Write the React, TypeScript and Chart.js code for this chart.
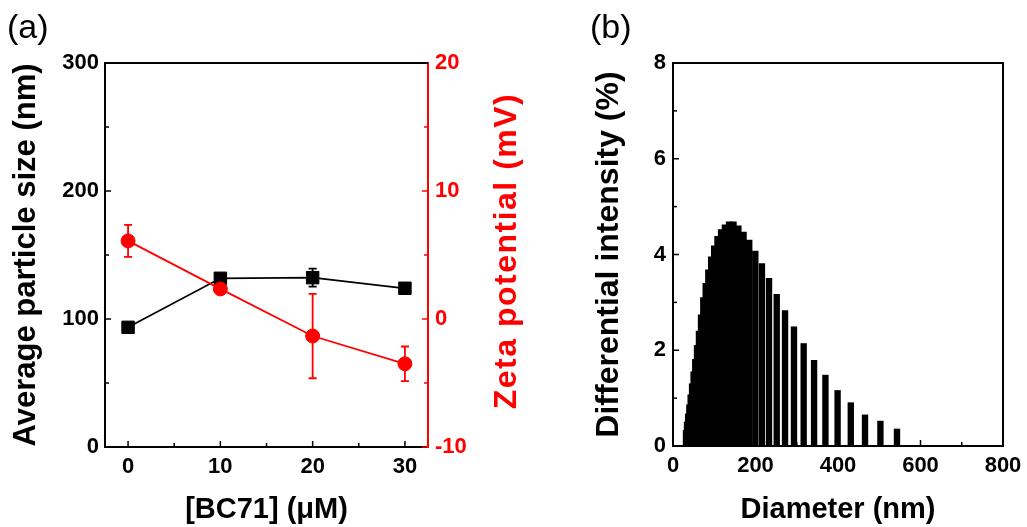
import React, { useEffect, useRef } from 'react';
import { Chart, registerables } from 'chart.js';
Chart.register(...registerables);

// ---------- Data: panel (a) ----------
const concentrations = [0, 10, 20, 30];
const particleSize = [93.5, 131.8, 132.3, 124];
const particleSizeErr = [0, 0, 7, 0];
const zetaPotential = [6.1, 2.35, -1.33, -3.5];
const zetaPotentialErr = [1.25, 0, 3.3, 1.35];

const aXTickLabels = [0, 10, 20, 30];
const aXMinorTicks = [0, 5, 10, 15, 20, 25, 30];
const aYTickLabels = [0, 100, 200, 300];
const aYMinorTicks = [0, 50, 100, 150, 200, 250, 300];
const aY1TickLabels = [-10, 0, 10, 20];
const aY1MinorTicks = [-10, -5, 0, 5, 10, 15, 20];

// ---------- Data: panel (b) ----------
const diameters = [31.5, 34, 36.7, 39.6, 42.8, 46.2, 49.9, 53.9, 58.2, 62.9, 67.9, 73.4, 79.3, 85.6, 92.5, 99.8, 107.8, 116.5, 125.8, 135.9, 146.7, 158.5, 171.1, 184.8, 199.6, 215.6, 232.8, 251.5, 271.6, 293.3, 316.8, 342, 369.5, 399, 431, 465.5, 502.8, 543];
const intensities = [0.33, 0.5, 0.67, 0.86, 1.07, 1.3, 1.55, 1.81, 2.1, 2.4, 2.74, 3.1, 3.4, 3.68, 3.95, 4.18, 4.38, 4.52, 4.62, 4.68, 4.68, 4.6, 4.47, 4.3, 4.07, 3.81, 3.5, 3.17, 2.83, 2.49, 2.14, 1.79, 1.48, 1.16, 0.905, 0.65, 0.52, 0.355];

const bXTickLabels = [0, 200, 400, 600, 800];
const bXMinorTicks = [0, 100, 200, 300, 400, 500, 600, 700, 800];
const bYTickLabels = [0, 2, 4, 6, 8];
const bYMinorTicks = [0, 1, 2, 3, 4, 5, 6, 7, 8];

const FONT = "'Liberation Sans', Arial, Helvetica, sans-serif";
const RED = '#ff0000';
Chart.defaults.font.family = FONT;

const zeroPad = (s: any) => {
  s.paddingLeft = 0; s.paddingRight = 0; s.paddingTop = 0; s.paddingBottom = 0;
};

const inwardTicks = {
  id: 'inwardTicks',
  afterDatasetsDraw(chart: any, _args: any, opts: any) {
    const ctx = chart.ctx;
    const ca = chart.chartArea;
    (opts.list || []).forEach((t: any) => {
      const sc = chart.scales[t.scale];
      ctx.save();
      ctx.strokeStyle = t.color;
      ctx.lineWidth = 1.5;
      t.values.forEach((v: number) => {
        const p = sc.getPixelForValue(v);
        const len = t.major.includes(v) ? 6 : 4;
        ctx.beginPath();
        if (t.side === 'bottom') { ctx.moveTo(p, ca.bottom); ctx.lineTo(p, ca.bottom - len); }
        else if (t.side === 'left') { ctx.moveTo(ca.left, p); ctx.lineTo(ca.left + len, p); }
        else if (t.side === 'right') { ctx.moveTo(ca.right, p); ctx.lineTo(ca.right - len, p); }
        ctx.stroke();
      });
      ctx.restore();
    });
  },
};

const frame = {
  id: 'frame',
  afterDraw(chart: any, _args: any, opts: any) {
    const ctx = chart.ctx;
    const ca = chart.chartArea;
    ctx.save();
    ctx.strokeStyle = '#000';
    ctx.lineWidth = 2;
    ctx.beginPath();
    ctx.moveTo(ca.left, ca.top);
    ctx.lineTo(ca.right, ca.top);
    if (opts.right) ctx.lineTo(ca.right, ca.bottom);
    ctx.stroke();
    ctx.restore();
  },
};

// Right-hand axis title that reads bottom-to-top, as in the reference
const rightTitle = {
  id: 'rightTitle',
  afterDraw(chart: any, _args: any, opts: any) {
    if (!opts.text) return;
    const ctx = chart.ctx;
    const ca = chart.chartArea;
    ctx.save();
    ctx.translate(opts.x, (ca.top + ca.bottom) / 2 + (opts.dy || 0));
    ctx.rotate(-Math.PI / 2);
    ctx.font = `bold ${opts.size}px ${FONT}`;
    if ('letterSpacing' in ctx) (ctx as any).letterSpacing = opts.spacing || '0px';
    ctx.fillStyle = opts.color;
    ctx.textAlign = 'center';
    ctx.textBaseline = 'middle';
    ctx.fillText(opts.text, 0, 0);
    ctx.restore();
  },
};

const errorBars = {
  id: 'errorBars',
  beforeDatasetsDraw(chart: any) {
    const ctx = chart.ctx;
    chart.data.datasets.forEach((ds: any, i: number) => {
      if (!ds.errors) return;
      const meta = chart.getDatasetMeta(i);
      const ys = chart.scales[ds.yAxisID || 'y'];
      ctx.save();
      ctx.strokeStyle = ds.borderColor;
      ctx.lineWidth = 1.8;
      meta.data.forEach((pt: any, j: number) => {
        const e = ds.errors[j];
        if (!e) return;
        const v = ds.data[j].y;
        const y1 = ys.getPixelForValue(v + e);
        const y2 = ys.getPixelForValue(v - e);
        ctx.beginPath();
        ctx.moveTo(pt.x, y1); ctx.lineTo(pt.x, y2);
        ctx.moveTo(pt.x - 4, y1); ctx.lineTo(pt.x + 4, y1);
        ctx.moveTo(pt.x - 4, y2); ctx.lineTo(pt.x + 4, y2);
        ctx.stroke();
      });
      ctx.restore();
    });
  },
};

const tickFont = { size: 22, weight: 'bold' as const, family: FONT };
const titleFontY = { size: 31, weight: 'bold' as const, family: FONT };
const titleFontYb = { size: 32, weight: 'bold' as const, family: FONT };
const titleFontX = { size: 29, weight: 'bold' as const, family: FONT };

function PanelA() {
  const ref = useRef<HTMLCanvasElement>(null);
  useEffect(() => {
    const chart = new Chart(ref.current!, {
      type: 'line',
      data: {
        datasets: [
          {
            label: 'Zeta potential',
            data: concentrations.map((c, i) => ({ x: c, y: zetaPotential[i] })),
            errors: zetaPotentialErr,
            yAxisID: 'y1',
            borderColor: RED,
            backgroundColor: RED,
            borderWidth: 1.8,
            pointStyle: 'circle',
            pointRadius: 7,
            pointBorderWidth: 1,
          } as any,
          {
            label: 'Average particle size',
            data: concentrations.map((c, i) => ({ x: c, y: particleSize[i] })),
            errors: particleSizeErr,
            yAxisID: 'y',
            borderColor: '#000',
            backgroundColor: '#000',
            borderWidth: 1.8,
            pointStyle: 'rect',
            pointRadius: 8.8,
            pointBorderWidth: 1,
          } as any,
        ],
      },
      options: {
        animation: false,
        responsive: false,
        layout: { padding: { top: 63, left: 0, right: 0, bottom: 0 } },
        plugins: {
          legend: { display: false },
          tooltip: { enabled: false },
          inwardTicks: {
            list: [
              { scale: 'x', side: 'bottom', values: aXMinorTicks, major: aXTickLabels, color: '#000' },
              { scale: 'y', side: 'left', values: aYMinorTicks, major: aYTickLabels, color: '#000' },
              { scale: 'y1', side: 'right', values: aY1MinorTicks, major: aY1TickLabels, color: RED },
            ],
          },
          frame: { right: false },
          rightTitle: { text: 'Zeta potential (mV)', color: RED, size: 32, spacing: '1.5px', x: 507, dy: -4 },
        } as any,
        scales: {
          x: {
            type: 'linear',
            min: -2.5,
            max: 32.5,
            position: 'bottom',
            afterBuildTicks: (a: any) => { a.ticks = aXTickLabels.map((v) => ({ value: v })); },
            afterFit: (s: any) => { s.height = 80; zeroPad(s); },
            grid: { display: false, drawTicks: false },
            border: { display: true, color: '#000', width: 2 },
            ticks: { color: '#000', font: tickFont, padding: 7, maxRotation: 0, autoSkip: false },
            title: { display: true, text: '[BC71] (μM)', color: '#000', font: titleFontX, padding: { top: 0, bottom: 0 } },
          },
          y: {
            type: 'linear',
            min: 0,
            max: 300,
            position: 'left',
            afterBuildTicks: (a: any) => { a.ticks = aYTickLabels.map((v) => ({ value: v })); },
            afterFit: (s: any) => { s.width = 105; zeroPad(s); },
            grid: { display: false, drawTicks: false },
            border: { display: true, color: '#000', width: 2 },
            ticks: { color: '#000', font: tickFont, padding: 6 },
            title: { display: true, text: 'Average particle size (nm)', color: '#000', font: titleFontY, padding: { top: 8, bottom: 0 } },
          },
          y1: {
            type: 'linear',
            min: -10,
            max: 20,
            position: 'right',
            afterBuildTicks: (a: any) => { a.ticks = aY1TickLabels.map((v) => ({ value: v })); },
            afterFit: (s: any) => { s.width = 112; zeroPad(s); },
            grid: { display: false, drawTicks: false },
            border: { display: true, color: RED, width: 2 },
            ticks: { color: RED, font: tickFont, padding: 7 },
            title: { display: false },
          },
        },
      } as any,
      plugins: [inwardTicks, frame, errorBars, rightTitle],
    });
    return () => chart.destroy();
  }, []);
  return <canvas ref={ref} width={540} height={527} style={{ position: 'absolute', left: 0, top: 0, width: 540, height: 527 }} />;
}

function PanelB() {
  const ref = useRef<HTMLCanvasElement>(null);
  useEffect(() => {
    const chart = new Chart(ref.current!, {
      type: 'bar',
      data: {
        datasets: [
          {
            label: 'Differential intensity',
            data: diameters.map((d, i) => ({ x: d, y: intensities[i] })),
            backgroundColor: '#000',
            borderWidth: 0,
            barThickness: 5.7,
            grouped: false,
          } as any,
        ],
      },
      options: {
        animation: false,
        responsive: false,
        layout: { padding: { top: 63, left: 0, right: 24, bottom: 0 } },
        plugins: {
          legend: { display: false },
          tooltip: { enabled: false },
          inwardTicks: {
            list: [
              { scale: 'x', side: 'bottom', values: bXMinorTicks, major: bXTickLabels, color: '#000' },
              { scale: 'y', side: 'left', values: bYMinorTicks, major: bYTickLabels, color: '#000' },
            ],
          },
          frame: { right: true },
        } as any,
        scales: {
          x: {
            type: 'linear',
            min: 0,
            max: 800,
            offset: false,
            position: 'bottom',
            afterBuildTicks: (a: any) => { a.ticks = bXTickLabels.map((v) => ({ value: v })); },
            afterFit: (s: any) => { s.height = 81; zeroPad(s); },
            grid: { display: false, drawTicks: false, offset: false },
            border: { display: true, color: '#000', width: 2 },
            ticks: { color: '#000', font: tickFont, padding: 7, maxRotation: 0, autoSkip: false },
            title: { display: true, text: 'Diameter (nm)', color: '#000', font: titleFontX, padding: { top: 0, bottom: 0 } },
          },
          y: {
            type: 'linear',
            min: 0,
            max: 8,
            position: 'left',
            afterBuildTicks: (a: any) => { a.ticks = bYTickLabels.map((v) => ({ value: v })); },
            afterFit: (s: any) => { s.width = 133; zeroPad(s); },
            grid: { display: false, drawTicks: false },
            border: { display: true, color: '#000', width: 2 },
            ticks: { color: '#000', font: tickFont, padding: 7 },
            title: { display: true, text: 'Differential intensity (%)', color: '#000', font: titleFontYb, padding: { top: 50, bottom: 0 } },
          },
        },
      } as any,
      plugins: [inwardTicks, frame],
    });
    return () => chart.destroy();
  }, []);
  return <canvas ref={ref} width={487} height={527} style={{ position: 'absolute', left: 540, top: 0, width: 487, height: 527 }} />;
}

const panelLabel: React.CSSProperties = {
  position: 'absolute',
  top: 7,
  fontFamily: FONT,
  fontSize: 34,
  lineHeight: '38px',
  color: '#000',
};

export default function App() {
  return (
    <div style={{ position: 'absolute', left: 0, top: 0, width: 1027, height: 527, background: '#fff', overflow: 'hidden' }}>
      <PanelA />
      <PanelB />
      <div style={{ ...panelLabel, left: 7 }}>(a)</div>
      <div style={{ ...panelLabel, left: 590 }}>(b)</div>
    </div>
  );
}
